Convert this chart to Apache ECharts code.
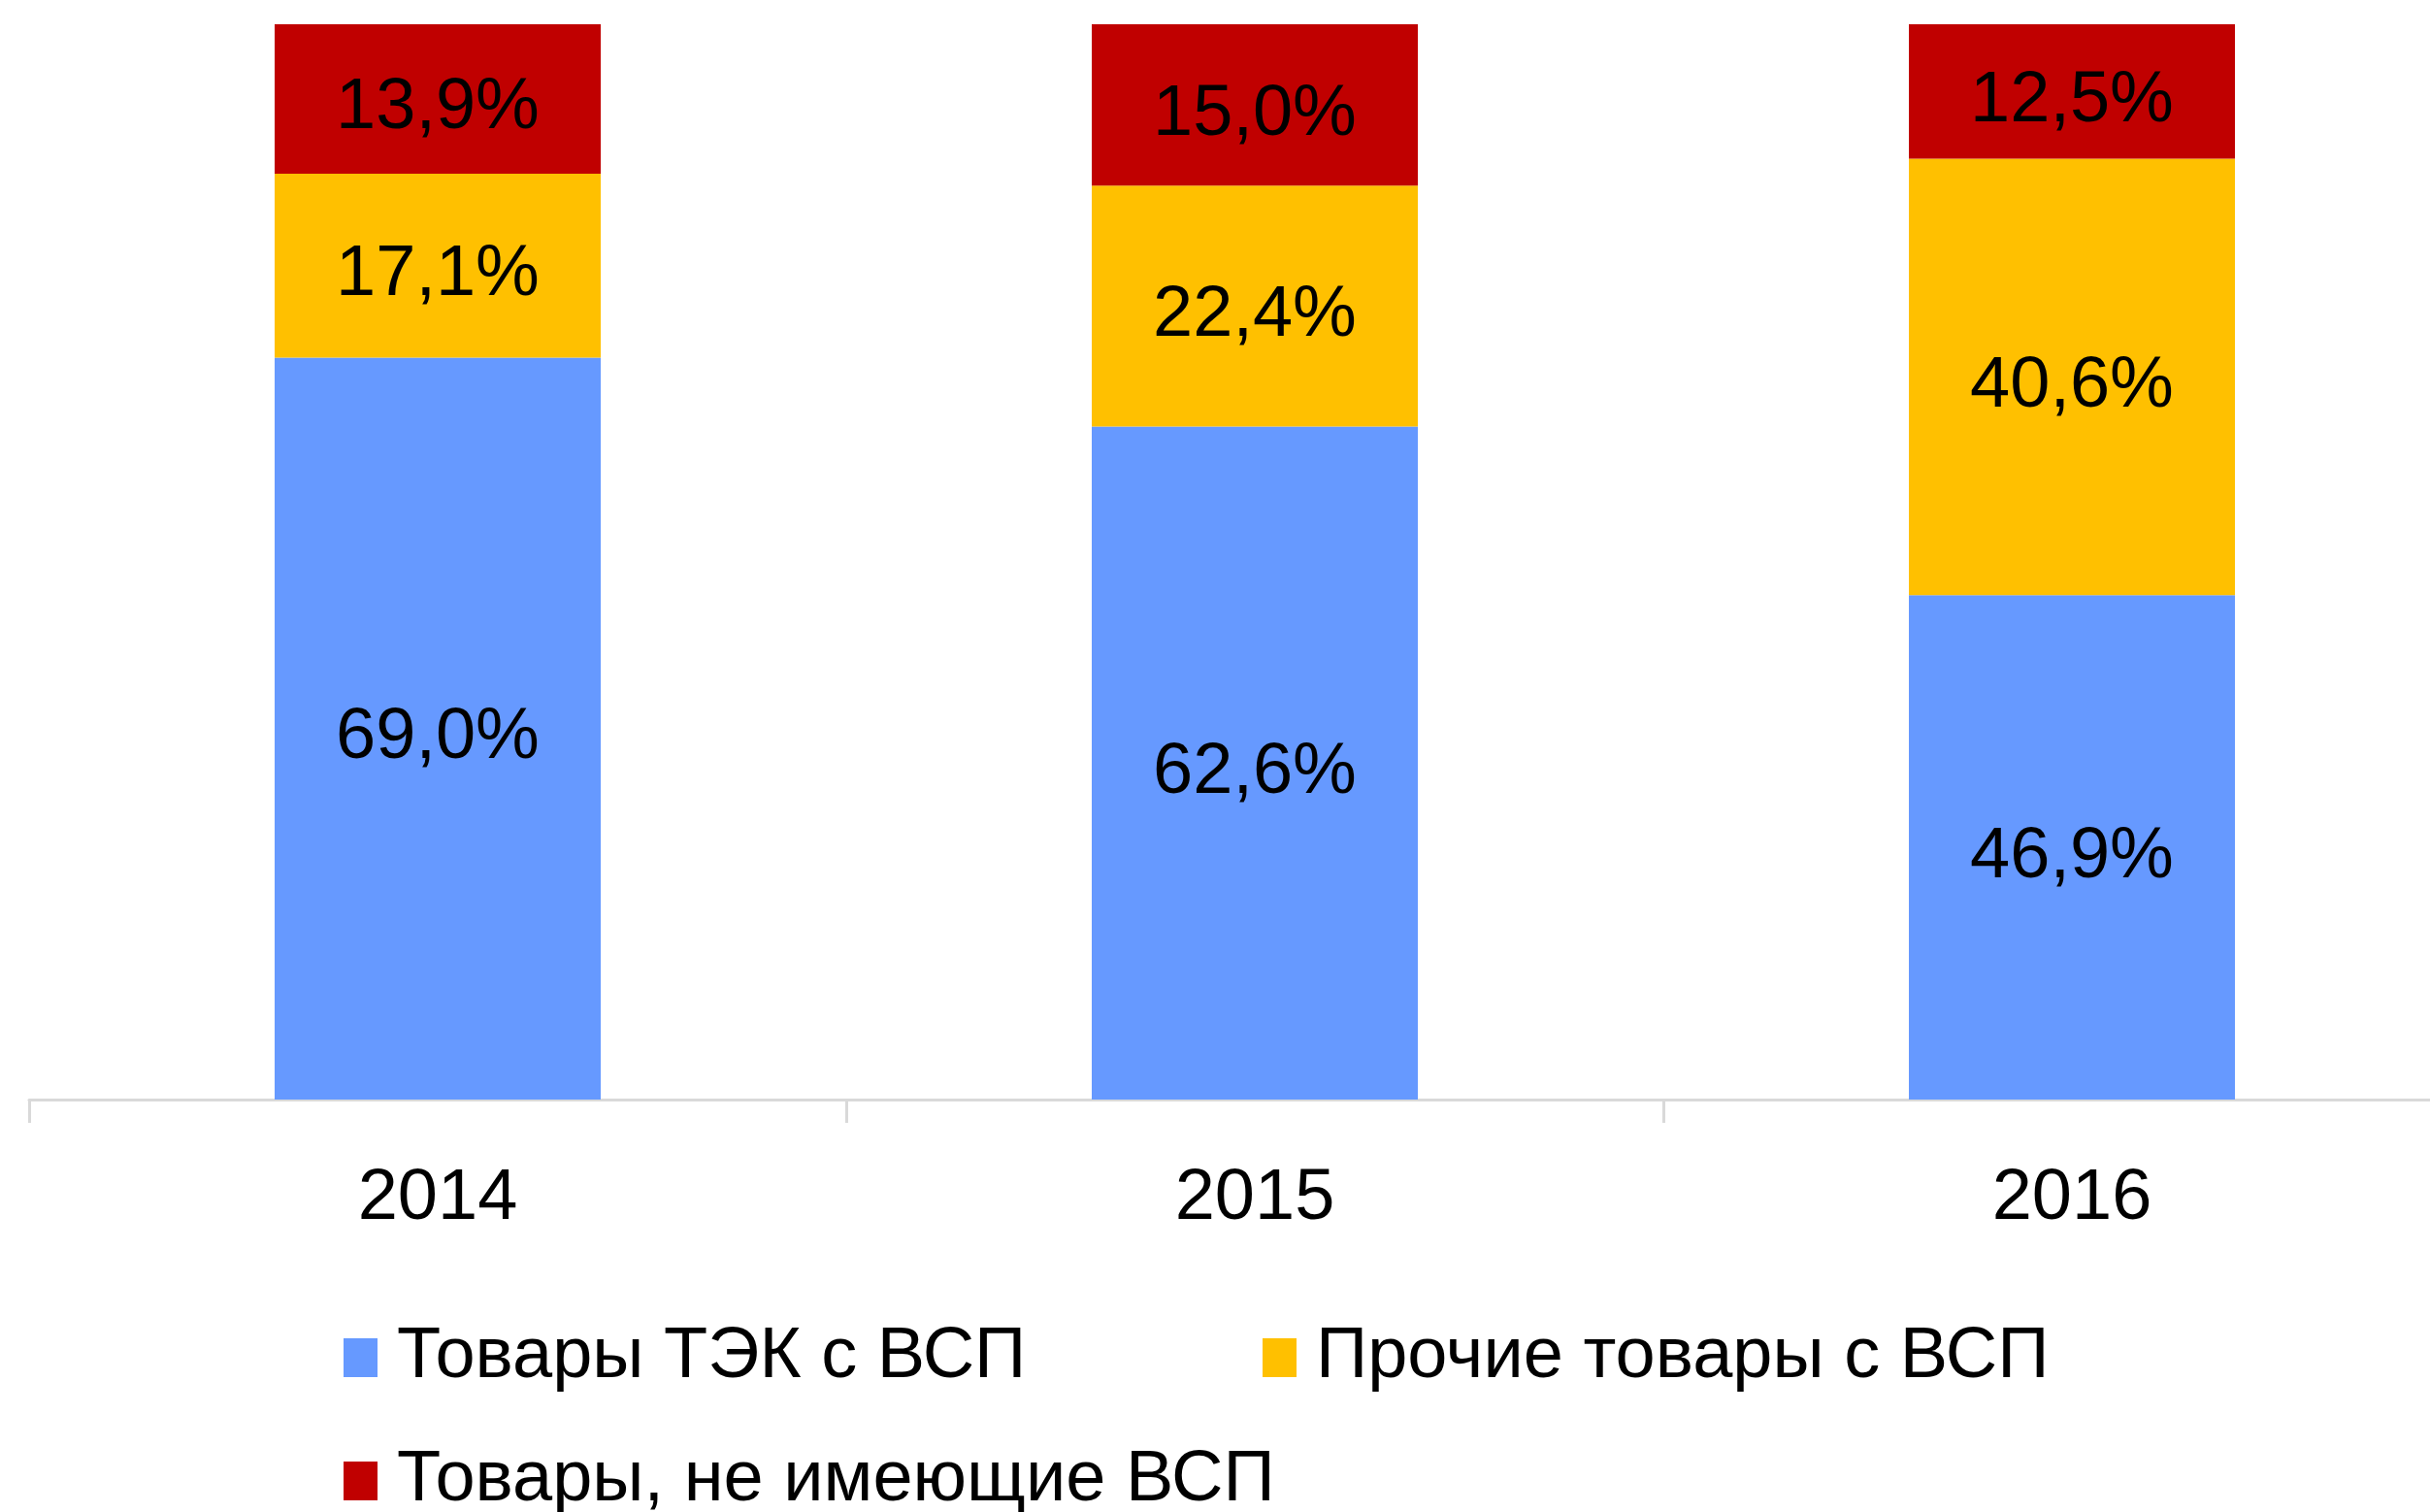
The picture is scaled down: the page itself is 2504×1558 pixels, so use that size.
<!DOCTYPE html>
<html><head><meta charset="utf-8">
<script src="https://cdn.jsdelivr.net/npm/echarts/dist/echarts.min.js"></script>
<style>html,body{margin:0;padding:0;background:#fff}#c{width:2504px;height:1558px}</style>
</head><body><div id="c"></div>
<script>
const categories = ['2014', '2015', '2016'];
const seriesNames = ['Товары ТЭК с ВСП', 'Прочие товары с ВСП', 'Товары, не имеющие ВСП'];
const tekValues = [69.0, 62.6, 46.9];
const otherValues = [17.1, 22.4, 40.6];
const noneValues = [13.9, 15.0, 12.5];
const colors = ['#6699FF', '#FFC000', '#C00000'];

const FONT = '"Liberation Sans", Arial, sans-serif';
const FS = 74;
const fmt = p => p.value.toFixed(1).replace('.', ',') + '%';

function mkSeries(name, data, color) {
  return {
    name, type: 'bar', stack: 'total', data, barWidth: 336,
    itemStyle: { color },
    label: { show: true, position: 'inside', offset: [0, 10], formatter: fmt, color: '#000', fontFamily: FONT, fontSize: FS },
    emphasis: { disabled: true }
  };
}
function mkLegend(name, left, top) {
  return {
    data: [name], left, top, padding: 0, icon: 'rect', itemWidth: 35, itemHeight: 40,
    selectedMode: false,
    textStyle: { fontFamily: FONT, fontSize: FS, color: '#000', lineHeight: 90, padding: [0, 0, 0, 15] }
  };
}
const chart = echarts.init(document.getElementById('c'), null, { renderer: 'canvas' });
chart.setOption({
  animation: false,
  color: colors,
  grid: { left: 30, width: 2526, top: 25, height: 1108, containLabel: false, outerBoundsMode: 'none' },
  legend: [
    mkLegend(seriesNames[0], 354, 1354),
    mkLegend(seriesNames[1], 1301, 1354),
    mkLegend(seriesNames[2], 354, 1481)
  ],
  xAxis: {
    type: 'category', data: categories,
    axisLine: { lineStyle: { color: '#d9d9d9', width: 3 } },
    axisTick: { show: true, length: 24, lineStyle: { color: '#d9d9d9', width: 3 } },
    axisLabel: { color: '#000', fontFamily: FONT, fontSize: FS, margin: 66 }
  },
  yAxis: { type: 'value', min: 0, max: 100, show: false, splitLine: { show: false } },
  series: [
    mkSeries(seriesNames[0], tekValues, colors[0]),
    mkSeries(seriesNames[1], otherValues, colors[1]),
    mkSeries(seriesNames[2], noneValues, colors[2])
  ]
});
</script></body></html>
